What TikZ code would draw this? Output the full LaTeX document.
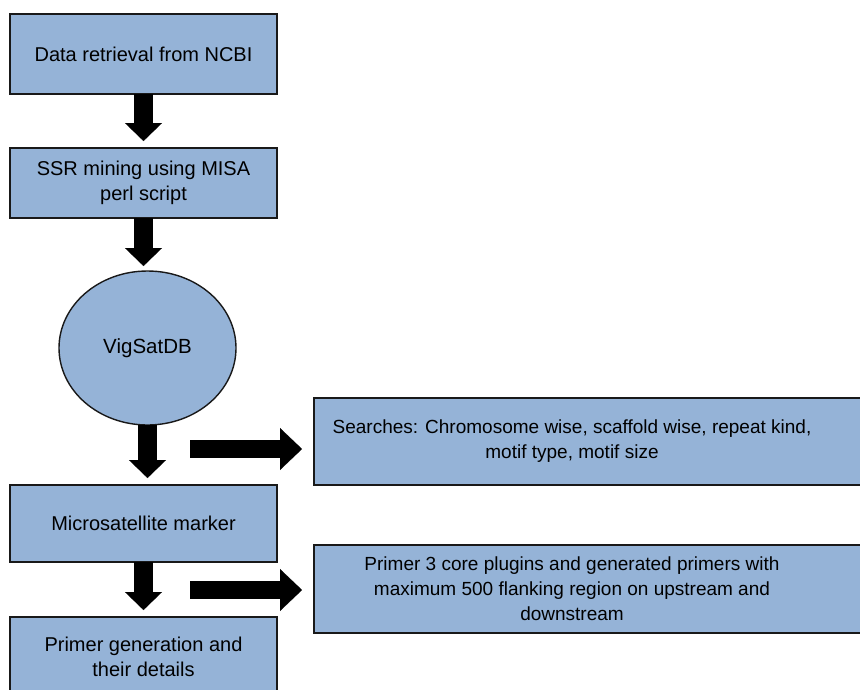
\documentclass[tikz,border=0pt]{standalone}
\usepackage{fontspec}
\setmainfont{Liberation Sans}
\usetikzlibrary{positioning, arrows.meta, shapes.geometric}
\definecolor{boxblue}{RGB}{149,179,215}

\begin{document}
\begin{tikzpicture}[x=1pt, y=1pt,
  stagebox/.style={rectangle, draw=black!90, fill=boxblue, line width=1.4pt, outer sep=0pt, minimum width=267pt, align=center, font=\fontsize{20}{24.5}\selectfont},
  sidebox/.style={rectangle, draw=black!90, fill=boxblue, line width=1.4pt, outer sep=0pt, inner xsep=0pt, anchor=west, font=\fontsize{19}{25}\selectfont},
  dbnode/.style={ellipse, draw=black!90, fill=boxblue, line width=1.4pt, outer sep=0pt, inner sep=0pt, minimum width=177pt, minimum height=154pt, font=\fontsize{20.5}{25}\selectfont},
  downarrow/.style={line width=19pt, -{Triangle[length=18pt, width=37pt, line width=0.1pt]}, shorten >=7pt},
  sidearrow/.style={line width=18pt, -{Triangle[length=22pt, width=42pt, line width=0.1pt]}, shorten >=12pt}]

\useasboundingbox (0,0) rectangle (860,-689);

% Pipeline
\node[stagebox, minimum height=80pt] (ncbi) at (143.5,-54) {Data retrieval from NCBI};
\node[stagebox, minimum height=70pt, below=54pt of ncbi] (misa) {SSR mining using MISA\\perl script};
\node[dbnode, below=53pt of misa, xshift=4pt] (db) {VigSatDB};
\node[stagebox, minimum height=77pt, below=60pt of db, xshift=-4pt] (marker) {Microsatellite marker};
\node[stagebox, minimum height=80pt, below=55pt of marker] (primergen) {Primer generation and\\their details};

% Side boxes
\node[sidebox, minimum height=87pt] (search) at (314,-441.5) {\makebox[556pt][l]{\parbox{516pt}{\centering Searches: Chromosome wise, scaffold wise, repeat kind,\\motif type, motif size}}};
\node[sidebox, minimum height=88pt] (primer3) at (314,-589) {\makebox[556pt][l]{\parbox{516pt}{\centering Primer 3 core plugins and generated primers with\\maximum 500 flanking region on upstream and\\downstream}}};

% Down arrows
\draw[downarrow] (ncbi.south) -- (misa.north);
\draw[downarrow, shorten >=5pt] (misa.south) -- (misa.south |- db.north);
\draw[downarrow] (db.south) -- (db.south |- marker.north);
\draw[downarrow] (marker.south) -- (primergen.north);

% Side arrows
\coordinate (searchtail) at (190,-449);
\coordinate (primertail) at (190,-590);
\draw[sidearrow] (searchtail) -- (searchtail -| search.west);
\draw[sidearrow] (primertail) -- (primertail -| primer3.west);

\end{tikzpicture}
\end{document}
